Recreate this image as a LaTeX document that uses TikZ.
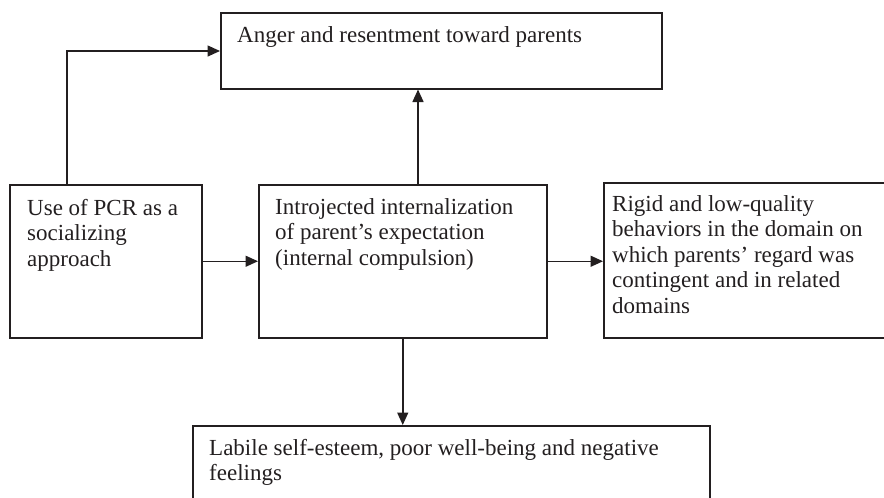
\documentclass[tikz,border=0pt]{standalone}
\usepackage{fontspec}
\setmainfont{Liberation Serif}
\usetikzlibrary{arrows.meta}
\definecolor{ink}{RGB}{35,31,32}
\begin{document}
\begin{tikzpicture}[x=1pt,y=-1pt,
  box/.style={draw=ink,line width=1.5pt,rectangle,inner sep=0pt,anchor=north west},
  txt/.style={anchor=north west,inner sep=0pt,align=left,text=ink,
    font=\fontsize{23}{25.5}\selectfont},
  arr/.style={draw=ink,line width=1.5pt,-{Triangle[length=12.5pt,width=11pt]}}]
  \clip (0,0) rectangle (884,498);
  % boxes
  \node[box,minimum width=441pt,minimum height=76pt] (A) at (220,12) {};
  \node[box,minimum width=192pt,minimum height=153pt] (U) at (9,184) {};
  \node[box,minimum width=288pt,minimum height=153pt] (I) at (258,184) {};
  \node[box,minimum width=300pt,minimum height=155pt] (R) at (603,182) {};
  \node[box,minimum width=517pt,minimum height=100pt] (L) at (192,425) {};
  % texts (north = first baseline minus strut height)
  \node[txt] (tA) at (237,42-17.85) {\strut Anger and resentment toward parents};
  \node[txt] (tU) at (27,215-17.85) {\strut Use of PCR as a\\socializing\\approach};
  \node[txt] (tI) at (275,214-17.85) {\strut Introjected internalization\\of parent’s expectation\\(internal compulsion)};
  \node[txt] (tR) at (612,211-17.85) {\strut Rigid and low-quality\\behaviors in the domain on\\which parents’ regard was\\contingent and in related\\domains};
  \node[txt] (tL) at (209,455-17.85) {\strut Labile self-esteem, poor well-being and negative\\feelings};
  % connectors
  \coordinate (bend) at (67,51);
  \coordinate (upx) at (418,0);
  \draw[arr] (bend |- U.north) -- (bend) -- (bend -| A.west);
  \draw[arr] (upx |- I.north) -- (upx |- A.south);
  \draw[arr] (U.east) -- (I.west);
  \draw[arr] (I.east) -- (I.east -| R.west);
  \draw[arr] (I.south) -- (I.south |- L.north);
\end{tikzpicture}
\end{document}
